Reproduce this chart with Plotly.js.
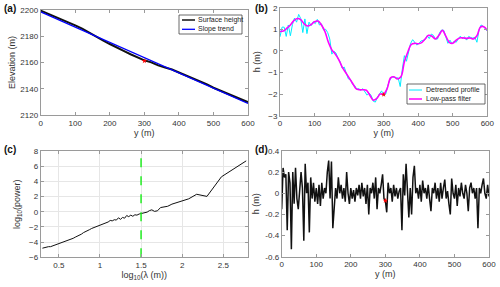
<!DOCTYPE html>
<html>
<head>
<meta charset="utf-8">
<script src="https://cdn.plot.ly/plotly-3.0.1.min.js"></script>
<style>html,body{margin:0;padding:0;background:#fff;}#chart{width:500px;height:287px;}</style>
</head>
<body>
<div id="chart"></div>
<script>
// ---------- Panel (a): surface height & slope trend ----------
var surfX = [0,20,40,60,80,100,120,140,160,180,200,220,240,260,280,300,320,340,360,380,400,420,440,460,480,500,520,540,560,580,600];
var surfH = [2199.5,2197.3,2195.3,2193.0,2190.4,2188.3,2185.8,2182.7,2179.8,2176.9,2174.1,2171.2,2168.9,2166.3,2163.8,2161.7,2160.1,2157.8,2156.2,2154.7,2152.4,2150.3,2148.1,2145.8,2143.5,2140.8,2138.7,2136.4,2134.0,2132.2,2129.8];
var trendX = [0,600];
var trendH = [2198.6,2128.8];
var markA = {x:[300], y:[2161.2]};
var legendA = ['Surface height','Slope trend'];

// ---------- Panel (b): detrended profile & low-pass ----------
var lowX = [0,10,20,30,40,50,60,70,80,90,100,110,120,130,140,150,160,170,180,190,200,210,220,230,240,250,260,270,280,290,300,310,320,330,340,350,360,370,380,390,400,410,420,430,440,450,460,470,480,490,500,510,520,530,540,550,560,570,580,590,600];
var lowH = [0.9,0.92,1.05,1.2,1.4,1.5,1.45,1.25,1.15,1.22,1.35,1.38,1.2,0.9,0.4,0.05,-0.15,-0.4,-0.75,-1.0,-1.25,-1.5,-1.75,-1.8,-1.8,-1.82,-2.05,-2.28,-2.2,-2.0,-2.0,-1.75,-1.25,-1.2,-1.3,-1.2,-0.5,-0.05,0.3,0.35,0.33,0.38,0.55,0.72,0.68,0.55,0.72,0.95,0.68,0.4,0.35,0.5,0.6,0.6,0.58,0.6,0.55,0.7,1.1,1.12,0.95];
var detX = [0,6,12,18,24,30,36,42,48,54,60,66,72,78,84,90,96,102,108,114,120,126,132,138,144,150,156,162,168,174,180,186,192,198,204,210,216,222,228,234,240,246,252,258,264,270,276,282,288,294,300,306,312,318,324,330,336,342,348,354,360,366,372,378,384,390,396,402,408,414,420,426,432,438,444,450,456,462,468,474,480,486,492,498,504,510,516,522,528,534,540,546,552,558,564,570,576,582,588,594,600];
var detH = [0.65,1.1,1.1,0.67,1.2,0.7,1.22,1.52,1.33,1.69,1.5,0.85,1.48,0.8,1.33,1.17,1.35,1.26,1.46,1.2,1.25,0.97,1.0,0.85,0.55,-0.15,-0.02,-0.1,-0.35,-0.5,-0.8,-0.75,-1.05,-1.3,-1.32,-1.55,-1.6,-1.78,-1.75,-1.82,-1.75,-1.89,-2.05,-1.95,-2.07,-2.33,-2.37,-2.14,-1.96,-1.85,-2.07,-2.0,-1.6,-1.35,-1.2,-1.23,-1.25,-1.25,-1.65,-0.85,-0.22,-0.48,0.02,0.35,0.52,0.38,0.27,0.34,0.46,0.48,0.52,0.7,0.57,0.78,0.72,0.55,0.55,0.85,0.97,0.95,0.68,0.35,0.5,0.32,0.45,0.4,0.56,0.68,0.57,0.65,0.5,0.67,0.62,0.59,0.63,0.4,0.97,1.2,1.14,1.05,0.92];
var markB = {x:[300], y:[-2.02]};
var legendB = ['Detrended profile','Low-pass filter'];

// ---------- Panel (c): power spectrum ----------
var logLam = [2.778,2.477,2.301,2.176,2.079,2.0,1.933,1.875,1.824,1.778,1.737,1.699,1.663,1.631,1.602,1.574,1.548,1.523,1.5,1.477,1.45,1.425,1.4,1.375,1.35,1.325,1.3,1.275,1.25,1.225,1.2,1.175,1.15,1.125,1.1,1.075,1.05,1.025,1.0,0.975,0.95,0.925,0.9,0.875,0.85,0.825,0.8,0.775,0.75,0.725,0.7,0.675,0.65,0.625,0.6,0.575,0.55,0.525,0.5,0.475,0.45,0.425,0.4,0.375,0.35,0.325,0.301];
var logPow = [6.7,4.6,2.02,2.3,1.7,1.45,1.2,1.0,0.72,0.62,0.55,0.12,0.05,0.25,0.15,-0.05,-0.1,-0.2,-0.2,-0.3,-0.45,-0.4,-0.6,-0.45,-0.65,-0.5,-0.85,-0.75,-1.0,-0.8,-1.1,-1.05,-1.2,-1.15,-1.35,-1.45,-1.5,-1.65,-1.75,-1.85,-1.95,-2.1,-2.2,-2.35,-2.45,-2.65,-2.75,-2.95,-3.05,-3.25,-3.35,-3.5,-3.6,-3.75,-3.85,-3.95,-4.05,-4.15,-4.25,-4.35,-4.45,-4.5,-4.6,-4.6,-4.65,-4.7,-4.8];
var cutX = [1.5,1.5];
var cutY = [-6,8];

// ---------- Panel (d): residual ----------
var resX = [];
for (var i = 0; i <= 150; i++) resX.push(i*4);
var resH = [-0.15,0.24,0.15,0.18,-0.35,0.2,0.1,-0.53,0.2,-0.1,0.24,-0.05,-0.15,0.02,0.2,0.05,-0.45,0.28,0.0,0.1,-0.37,0.15,-0.05,0.1,-0.08,0.05,-0.1,0.08,-0.12,0.1,-0.05,0.05,0.0,0.2,0.31,-0.05,0.3,-0.33,-0.1,0.05,-0.05,0.15,0.0,0.08,-0.05,0.05,-0.08,0.2,0.0,-0.1,0.05,-0.05,0.03,-0.08,0.05,-0.02,0.08,-0.05,0.1,-0.03,0.05,-0.1,0.08,-0.2,0.05,0.0,0.1,-0.05,0.15,-0.15,0.05,0.0,0.08,0.18,-0.05,-0.07,-0.18,0.1,0.0,0.05,-0.08,0.08,-0.03,0.05,-0.05,0.02,0.05,-0.35,0.18,-0.02,0.28,0.0,-0.23,0.05,-0.2,0.15,0.26,0.0,0.05,-0.05,0.08,-0.08,0.12,0.0,0.05,-0.05,0.08,-0.05,-0.17,0.05,0.0,0.1,-0.05,0.05,-0.08,0.1,-0.05,0.05,0.13,-0.05,0.02,-0.1,-0.2,0.14,0.0,-0.05,0.08,-0.12,0.05,-0.03,0.1,0.0,-0.05,0.08,0.0,-0.17,0.05,0.1,0.0,0.05,-0.05,0.05,-0.33,0.05,0.0,0.08,0.14,0.0,-0.05,0.08,-0.03];
var markD = {x:[300], y:[-0.07]};

// ---------- Plot ----------
var FONT = 'Liberation Sans, Arial, sans-serif';
var TXT = '#333';
var AX = '#9a9a9a';
var colA = ['#111','#0000ff'];
var colB = ['#00eaff','#ff00ff'];

var traces = [
  {x:surfX, y:surfH, mode:'lines', line:{color:colA[0], width:2}, xaxis:'x', yaxis:'y'},
  {x:trendX, y:trendH, mode:'lines', line:{color:colA[1], width:1.3}, xaxis:'x', yaxis:'y'},
  {x:markA.x, y:markA.y, mode:'markers', marker:{color:'red', size:4, symbol:'star'}, xaxis:'x', yaxis:'y'},
  {x:detX, y:detH, mode:'lines', line:{color:colB[0], width:1}, xaxis:'x2', yaxis:'y2'},
  {x:lowX, y:lowH, mode:'lines', line:{color:colB[1], width:1.6, shape:'spline'}, xaxis:'x2', yaxis:'y2'},
  {x:markB.x, y:markB.y, mode:'markers', marker:{color:'red', size:4, symbol:'star'}, xaxis:'x2', yaxis:'y2'},
  {x:logLam, y:logPow, mode:'lines', line:{color:'#111', width:1}, xaxis:'x3', yaxis:'y3'},
  {x:cutX, y:cutY, mode:'lines', line:{color:'#22ee22', width:1.5, dash:'dash'}, xaxis:'x3', yaxis:'y3'},
  {x:resX, y:resH, mode:'lines', line:{color:'#111', width:1.5}, xaxis:'x4', yaxis:'y4'},
  {x:markD.x, y:markD.y, mode:'markers', marker:{color:'red', size:4, symbol:'star'}, xaxis:'x4', yaxis:'y4'}
];

function ax(opts){
  var base = {showline:true, linecolor:AX, linewidth:1, mirror:'ticks', ticks:'inside', ticklen:3, tickcolor:AX,
    zeroline:false, showgrid:false, tickfont:{size:8, color:TXT, family:FONT}, fixedrange:true};
  for (var k in opts) base[k] = opts[k];
  return base;
}
function ttl(t, s){ return {text:t, font:{size:9, color:TXT, family:FONT}, standoff:s}; }

// custom compact legends (pixel boxes converted to paper coords)
function px(x){ return x/500; }
function py(y){ return 1 - y/287; }
var shapes = [];
var annotations = [];
function addLegend(box, rowsY, lineX0, lineX1, textX, names, colors, widths){
  shapes.push({type:'rect', xref:'paper', yref:'paper', x0:px(box[0]), x1:px(box[1]), y0:py(box[3]), y1:py(box[2]),
    line:{color:'#444', width:0.8}, fillcolor:'#fff', layer:'above'});
  for (var j = 0; j < names.length; j++){
    shapes.push({type:'line', xref:'paper', yref:'paper', x0:px(lineX0), x1:px(lineX1), y0:py(rowsY[j]), y1:py(rowsY[j]),
      line:{color:colors[j], width:widths[j]}, layer:'above'});
    annotations.push({text:names[j], xref:'paper', yref:'paper', x:px(textX), y:py(rowsY[j]), xanchor:'left', yanchor:'middle',
      showarrow:false, font:{size:7, color:'#222', family:FONT}});
  }
}
addLegend([179,242,15,34],[20,29.3],182,195,196,legendA,colA,[1.5,1.3]);
addLegend([407,485,84,104],[90,99],409,422,424,legendB,colB,[1,1.5]);

var labels = ['(a)','(b)','(c)','(d)'];
var labPos = [[2,1],[253,1],[2,142],[253,142]];
for (var k = 0; k < labels.length; k++){
  annotations.push({text:'<b>'+labels[k]+'</b>', xref:'paper', yref:'paper', x:px(labPos[k][0]), y:py(labPos[k][1]),
    xanchor:'left', yanchor:'top', showarrow:false, font:{size:10, color:'#111', family:FONT}});
}

var layout = {
  width:500, height:287, margin:{l:0,r:0,t:0,b:0}, paper_bgcolor:'#fff', plot_bgcolor:'#fff',
  font:{family:FONT, color:TXT}, showlegend:false,
  xaxis: ax({domain:[0.0814,0.496], anchor:'y', range:[0,600], tickvals:[0,100,200,300,400,500,600], title:ttl('y (m)',2)}),
  yaxis: ax({domain:[0.599,0.9652], anchor:'x', range:[2120,2200], tickvals:[2120,2140,2160,2180,2200], title:ttl('Elevation (m)',3)}),
  xaxis2: ax({domain:[0.56,0.9746], anchor:'y2', range:[0,600], tickvals:[0,100,200,300,400,500,600], title:ttl('y (m)',2)}),
  yaxis2: ax({domain:[0.5969,0.9732], anchor:'x2', range:[-3,2], tickvals:[-3,-2,-1,0,1,2], title:ttl('h (m)',6)}),
  xaxis3: ax({domain:[0.0814,0.496], anchor:'y3', range:[0.28,2.8], tickvals:[0.5,1,1.5,2,2.5], ticktext:['0.5','1','1.5','2','2.5'], showgrid:true, gridcolor:'#e6e6e6', title:ttl('log<sub>10</sub>(λ (m))',1)}),
  yaxis3: ax({domain:[0.1035,0.4739], anchor:'x3', range:[-6,8], tickvals:[-6,-4,-2,0,2,4,6,8], showgrid:true, gridcolor:'#e6e6e6', title:ttl('log<sub>10</sub>(power)',6)}),
  xaxis4: ax({domain:[0.5634,0.978], anchor:'y4', range:[0,600], tickvals:[0,100,200,300,400,500,600], title:ttl('y (m)',2)}),
  yaxis4: ax({domain:[0.1056,0.4739], anchor:'x4', range:[-0.6,0.4], tickvals:[-0.6,-0.4,-0.2,0,0.2,0.4], ticktext:['-0.6','-0.4','-0.2','0','0.2','0.4'], title:ttl('h (m)',4)}),
  shapes: shapes,
  annotations: annotations
};

Plotly.newPlot('chart', traces, layout, {staticPlot:true, displayModeBar:false});
</script>
</body>
</html>
